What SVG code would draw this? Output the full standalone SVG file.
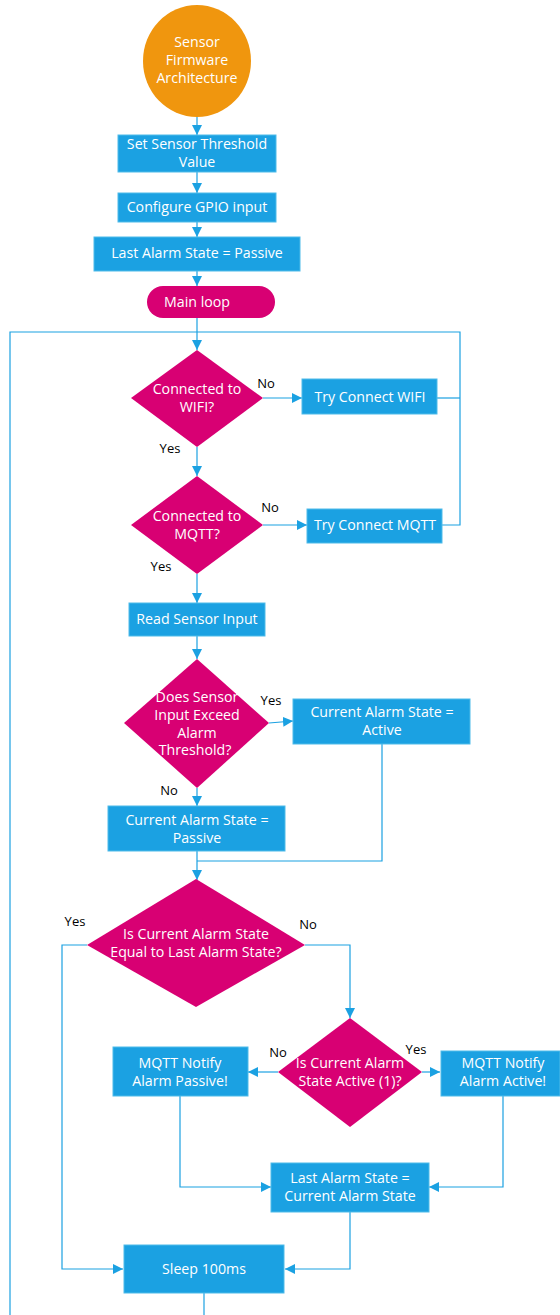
<svg xmlns="http://www.w3.org/2000/svg" width="560" height="1315" viewBox="0 0 560 1315">
<style>
.box{fill:#1ba1e2;stroke:#4fbbe9;stroke-width:1}
.dec{fill:#d80073}
.t{font-family:"Open Sans","Noto Sans",sans-serif;font-size:14.2px;fill:#fff;text-anchor:middle}
.lbl{font-family:"Open Sans","Noto Sans",sans-serif;font-size:13px;fill:#000;text-anchor:middle}
.c{fill:none;stroke:#1ba1e2;stroke-width:1.2}
.ca{fill:none;stroke:#1ba1e2;stroke-width:1.2;marker-end:url(#ah)}
</style>
<defs>
<marker id="ah" viewBox="0 0 10 10" refX="10" refY="5" markerWidth="10" markerHeight="10" markerUnits="userSpaceOnUse" orient="auto">
<path d="M0,0 L10,5 L0,10 z" fill="#1ba1e2"/>
</marker>
</defs>
<g id="connectors">
<path class="ca" d="M197,116 V135"/>
<path class="ca" d="M197,172 V193"/>
<path class="ca" d="M197,222 V237"/>
<path class="ca" d="M197,271 V286"/>
<path class="ca" d="M197,318 V350"/>
<path class="c" d="M10,1315 V332 H460 V525 H442"/>
<path class="c" d="M437,398 H460"/>
<path class="ca" d="M263,398 H302"/>
<path class="ca" d="M197,447 V476"/>
<path class="ca" d="M263,525 H307"/>
<path class="ca" d="M197,574 V603"/>
<path class="ca" d="M197,636 V659"/>
<path class="ca" d="M269,723 L293,721"/>
<path class="ca" d="M197,788 V806"/>
<path class="c" d="M382,744 V861 H197"/>
<path class="ca" d="M197,851 V880"/>
<path class="ca" d="M87,945 H62 V1269 H123"/>
<path class="ca" d="M305,945 H350 V1018"/>
<path class="ca" d="M278,1072 H248"/>
<path class="ca" d="M422,1072 H440"/>
<path class="ca" d="M180,1096 V1187 H271"/>
<path class="ca" d="M503,1096 V1187 H429"/>
<path class="ca" d="M350,1212 V1269 H285"/>
<path class="c" d="M204,1293 V1315"/>
</g>
<g id="start"><ellipse cx="197" cy="61" rx="54" ry="56" fill="#f0960e"/>
<text class="t" x="197" y="47">Sensor</text><text class="t" x="197" y="65">Firmware</text><text class="t" x="197" y="83">Architecture</text></g>
<g id="set-threshold"><rect class="box" x="118" y="135" width="158" height="37"/>
<text class="t" x="197" y="149">Set Sensor Threshold</text><text class="t" x="197" y="167">Value</text></g>
<g id="gpio"><rect class="box" x="118" y="193" width="158" height="29"/>
<text class="t" x="197" y="212">Configure GPIO input</text></g>
<g id="last-passive"><rect class="box" x="94" y="237" width="206" height="34"/>
<text class="t" x="197" y="258">Last Alarm State = Passive</text></g>
<g id="main-loop"><rect x="147" y="286" width="128" height="32" rx="16" fill="#d80073"/>
<text class="t" x="197" y="307">Main loop</text></g>
<g id="wifi-q"><polygon class="dec" points="197,350 263,398 197,447 131,398"/>
<text class="t" x="197" y="394">Connected to</text><text class="t" x="197" y="412">WIFI?</text>
<text class="lbl" x="266" y="388">No</text><text class="lbl" x="170" y="453">Yes</text></g>
<g id="try-wifi"><rect class="box" x="302" y="379" width="135" height="35"/>
<text class="t" x="370" y="402">Try Connect WIFI</text></g>
<g id="mqtt-q"><polygon class="dec" points="197,476 263,525 197,574 131,525"/>
<text class="t" x="197" y="521">Connected to</text><text class="t" x="197" y="539">MQTT?</text>
<text class="lbl" x="270" y="512">No</text><text class="lbl" x="161" y="571">Yes</text></g>
<g id="try-mqtt"><rect class="box" x="307" y="509" width="135" height="34"/>
<text class="t" x="375" y="530">Try Connect MQTT</text></g>
<g id="read-sensor"><rect class="box" x="129" y="603" width="136" height="33"/>
<text class="t" x="197" y="624">Read Sensor Input</text></g>
<g id="exceed-q"><polygon class="dec" points="197,659 269,723 197,788 124,723"/>
<text class="t" x="197" y="702">Does Sensor</text><text class="t" x="197" y="720">Input Exceed</text><text class="t" x="197" y="738">Alarm</text><text class="t" x="195" y="755">Threshold?</text>
<text class="lbl" x="271" y="705">Yes</text><text class="lbl" x="169" y="795">No</text></g>
<g id="cur-active"><rect class="box" x="293" y="699" width="177" height="45"/>
<text class="t" x="382" y="717">Current Alarm State =</text><text class="t" x="382" y="735">Active</text></g>
<g id="cur-passive"><rect class="box" x="108" y="806" width="177" height="45"/>
<text class="t" x="197" y="825">Current Alarm State =</text><text class="t" x="197" y="843">Passive</text></g>
<g id="equal-q"><polygon class="dec" points="196,879 305,945 196,1007 87,945"/>
<text class="t" x="196" y="939">Is Current Alarm State</text><text class="t" x="196" y="957">Equal to Last Alarm State?</text>
<text class="lbl" x="75" y="926">Yes</text><text class="lbl" x="308" y="929">No</text></g>
<g id="active-q"><polygon class="dec" points="350,1018 422,1072 350,1127 278,1072"/>
<text class="t" x="350" y="1068">Is Current Alarm</text><text class="t" x="350" y="1086">State Active (1)?</text>
<text class="lbl" x="278" y="1057">No</text><text class="lbl" x="416" y="1054">Yes</text></g>
<g id="notify-passive"><rect class="box" x="113" y="1047" width="135" height="49"/>
<text class="t" x="180" y="1068">MQTT Notify</text><text class="t" x="180" y="1086">Alarm Passive!</text></g>
<g id="notify-active"><rect class="box" x="441" y="1051" width="119" height="45"/>
<text class="t" x="503" y="1068">MQTT Notify</text><text class="t" x="503" y="1086">Alarm Active!</text></g>
<g id="last-current"><rect class="box" x="271" y="1163" width="158" height="49"/>
<text class="t" x="350" y="1183">Last Alarm State =</text><text class="t" x="350" y="1201">Current Alarm State</text></g>
<g id="sleep"><rect class="box" x="124" y="1245" width="160" height="48"/>
<text class="t" x="204" y="1274">Sleep 100ms</text></g>
</svg>
